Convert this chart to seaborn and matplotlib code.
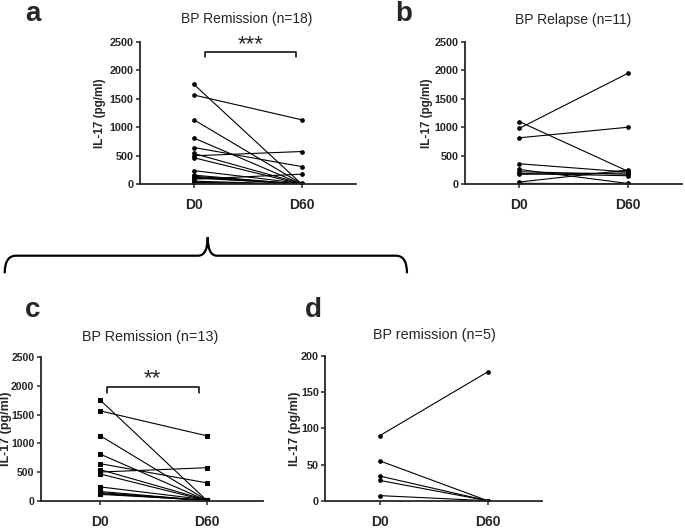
import numpy as np
import pandas as pd
import seaborn as sns
import matplotlib.pyplot as plt
from matplotlib.path import Path
from matplotlib.patches import PathPatch

# IL-17 (pg/ml) per patient, D0 and D60
days = ['D0', 'D60']

# c: BP remission, n=13
c_d0 = [1750, 1565, 1130, 810, 645, 540, 500, 465, 240, 160, 140, 125, 110]
c_d60 = [0, 1130, 5, 0, 310, 10, 575, 0, 15, 0, 5, 0, 8]

# d: BP remission, n=5
d_d0 = [90, 55, 34, 28, 7]
d_d60 = [178, 0, 0, 0, 0]

# a: all remission patients (c + d), n=18
a_d0 = c_d0 + d_d0
a_d60 = c_d60 + d_d60

# b: BP relapse, n=11
b_d0 = [1100, 980, 815, 360, 260, 220, 190, 175, 40, 18, 5]
b_d60 = [230, 1945, 1000, 215, 15, 175, 150, 200, 250, 5, 0]

sns.set_style('ticks')
plt.rcParams['font.family'] = ['Liberation Sans', 'DejaVu Sans']

W, H = 685, 529
fig = plt.figure(figsize=(6.85, 5.29), dpi=100)


def px_box(left, top, right, bottom):
    return [left / W, 1 - bottom / H, (right - left) / W, (bottom - top) / H]


def paired(rect, d0, d60, ymax, step, xlim, marker, tick_fs, lab_fs, lab_off):
    ax = fig.add_axes(rect)
    n = len(d0)
    df = pd.DataFrame({
        'subject': np.tile(np.arange(n), 2),
        'day': np.repeat([0, 1], n),
        'value': list(d0) + list(d60),
    })
    sns.lineplot(data=df, x='day', y='value', units='subject', estimator=None,
                 color='black', lw=0.8, marker=marker, ms=2.6, mec='black',
                 mfc='black', ax=ax, legend=False)
    ax.set_xlim(*xlim)
    ax.set_ylim(0, ymax)
    ax.set_yticks(np.arange(0, ymax + 1, step))
    ax.set_xticks([0, 1])
    ax.set_xticklabels(days, fontsize=10, fontweight='bold')
    for t in ax.get_yticklabels():
        t.set_fontsize(tick_fs)
        t.set_fontweight('bold')
    ax.set_xlabel('')
    ax.set_ylabel('IL-17 (pg/ml)', fontsize=lab_fs, fontweight='bold')
    # lab_off: pixels from the y spine to the label's right edge
    ax.yaxis.set_label_coords(-lab_off / (rect[2] * W), 0.5)
    sns.despine(ax=ax)
    for s in ['left', 'bottom']:
        ax.spines[s].set_linewidth(1.3)
    ax.tick_params(axis='y', length=3, width=1.1, pad=1.5)
    ax.tick_params(axis='x', length=3, width=1.1, pad=7)
    ax.set_facecolor('none')
    return ax


ax_a = paired(px_box(140, 41.7, 356, 184.3), a_d0, a_d60, 2500, 500,
              (-0.5, 1.5), 'o', 7.8, 8.4, 34)
ax_b = paired(px_box(465, 41.7, 682, 184.3), b_d0, b_d60, 2500, 500,
              (-0.5, 1.5), 'o', 7.8, 8.4, 32)
ax_c = paired(px_box(40.7, 357.3, 262.6, 500.7), c_d0, c_d60, 2500, 500,
              (-0.56, 1.52), 's', 7.6, 9.0, 28.5)
ax_d = paired(px_box(325, 356, 541.5, 500.7), d_d0, d_d60, 200, 50,
              (-0.51, 1.5), 'o', 7.8, 9.0, 24)

# titles
titles = [(246.7, 19, 'BP Remission (n=18)', 10),
          (573, 20, 'BP Relapse (n=11)', 10),
          (150, 336.7, 'BP Remission (n=13)', 10.4),
          (434.7, 335, 'BP remission (n=5)', 10.4)]
for x, y, s, fs in titles:
    fig.text(x / W, 1 - y / H, s, ha='center', va='center', fontsize=fs)

# panel letters
for x, y, s in [(25, 21, 'a'), (395, 20.7, 'b'), (25, 316.7, 'c'), (305, 317, 'd')]:
    fig.text(x / W, 1 - y / H, s, ha='left', va='baseline', fontsize=20,
             fontweight='bold')

# significance brackets
ax_a.plot([0.10, 0.10, 0.94, 0.94], [2237, 2325, 2325, 2237], color='black', lw=1.1,
          clip_on=False)
ax_a.text(0.52, 2270, '***', ha='center', va='bottom', fontsize=16)
ax_c.plot([0.06, 0.06, 0.92, 0.92], [1883, 1977, 1977, 1883], color='black', lw=1.1,
          clip_on=False)
ax_c.text(0.49, 1950, '**', ha='center', va='bottom', fontsize=16)

# curly brace linking a to c/d
pts = [(4.7, 273.3), (4.7, 255.7), (16, 255.7), (198, 255.7), (207.7, 255.7),
       (207.7, 237.3), (207.7, 255.7), (217, 255.7), (396, 255.7), (407, 255.7),
       (407, 273.3)]
codes = [Path.MOVETO, Path.CURVE3, Path.CURVE3, Path.LINETO, Path.CURVE3, Path.CURVE3,
         Path.CURVE3, Path.CURVE3, Path.LINETO, Path.CURVE3, Path.CURVE3]
verts = [(x / W, 1 - y / H) for x, y in pts]
fig.add_artist(PathPatch(Path(verts, codes), transform=fig.transFigure,
                         fill=False, lw=1.6, color='black'))

fig.savefig('out.png', dpi=100)
